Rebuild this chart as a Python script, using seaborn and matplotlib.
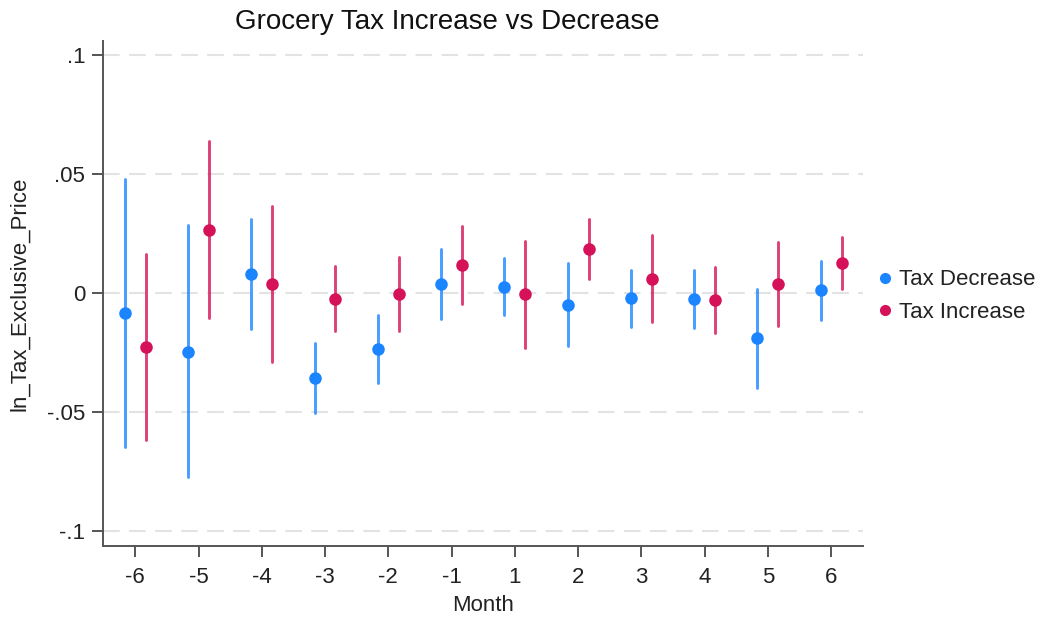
import matplotlib
matplotlib.use("Agg")
import matplotlib.pyplot as plt
from matplotlib.lines import Line2D
import numpy as np
import pandas as pd
import seaborn as sns

# Event-study coefficients with 95% confidence bounds, by month relative to the tax change
months = ["-6", "-5", "-4", "-3", "-2", "-1", "1", "2", "3", "4", "5", "6"]

dec_coef = [-0.0086, -0.0247, 0.0080, -0.0356, -0.0237, 0.0038,
            0.0027, -0.0050, -0.0022, -0.0027, -0.0189, 0.0011]
dec_lo = [-0.0646, -0.0775, -0.0151, -0.0503, -0.0380, -0.0111,
          -0.0094, -0.0223, -0.0141, -0.0148, -0.0398, -0.0115]
dec_hi = [0.0478, 0.0286, 0.0311, -0.0212, -0.0092, 0.0186,
          0.0146, 0.0125, 0.0098, 0.0095, 0.0018, 0.0134]

inc_coef = [-0.0228, 0.0265, 0.0038, -0.0024, -0.0004, 0.0116,
            -0.0006, 0.0184, 0.0060, -0.0031, 0.0038, 0.0127]
inc_lo = [-0.0618, -0.0104, -0.0289, -0.0158, -0.0158, -0.0048,
          -0.0232, 0.0059, -0.0123, -0.0169, -0.0139, 0.0017]
inc_hi = [0.0164, 0.0639, 0.0366, 0.0115, 0.0150, 0.0282,
          0.0220, 0.0310, 0.0244, 0.0108, 0.0213, 0.0235]

groups = ["Tax Decrease", "Tax Increase"]
colors = {"Tax Decrease": "#1A85FF", "Tax Increase": "#D41159"}

yticks = [-0.1, -0.05, 0.0, 0.05, 0.1]
ytick_labels = ["-.1", "-.05", "0", ".05", ".1"]

# Long table: each (month, group) cell holds its lower bound, estimate and upper bound,
# so the median is the estimate and the full range is the confidence interval.
rows = []
for g, coef, lo, hi in [("Tax Decrease", dec_coef, dec_lo, dec_hi),
                        ("Tax Increase", inc_coef, inc_lo, inc_hi)]:
    for m, c, l, h in zip(months, coef, lo, hi):
        for v in (l, c, h):
            rows.append({"Month": m, "group": g, "value": v})
df = pd.DataFrame(rows)

sns.set_theme(style="white")
plt.rcParams["font.family"] = ["Liberation Sans", "DejaVu Sans"]
text_color = "#222222"
axis_color = "#555555"
fs = 16

fig = plt.figure(figsize=(10.47, 6.21), dpi=100)
ax = fig.add_axes([0.0987, 0.1208, 0.7253, 0.8132])

sns.pointplot(
    data=df, x="Month", y="value", hue="group",
    order=months, hue_order=groups, palette=colors,
    estimator="median", errorbar=lambda v: (v.min(), v.max()),
    dodge=0.33, linestyle="none", markers="o", markersize=7,
    err_kws={"linewidth": 2.1, "alpha": 0.8},
    legend=False, ax=ax,
)

ax.set_xlim(-0.505, 11.5)
ax.set_ylim(-0.1063, 0.1059)
ax.set_yticks(yticks)
ax.set_yticklabels(ytick_labels)

ax.yaxis.grid(True, color="#e3e3e3", linestyle=(0, (8, 4.5)), linewidth=1.5)
ax.xaxis.grid(False)
ax.set_axisbelow(True)

for side in ["top", "right"]:
    ax.spines[side].set_visible(False)
for side in ["left", "bottom"]:
    ax.spines[side].set_color(axis_color)
    ax.spines[side].set_linewidth(1.4)

ax.tick_params(axis="x", pad=7)
ax.tick_params(axis="y", pad=5)
ax.tick_params(axis="both", which="major", direction="out", length=8, width=1.4,
               color=axis_color, labelsize=fs, labelcolor=text_color,
               left=True, bottom=True)

ax.set_xlabel("Month", fontsize=fs, color=text_color, labelpad=5)
ax.set_ylabel("ln_Tax_Exclusive_Price", fontsize=fs, color=text_color, labelpad=12)

fig.text(447 / 1047, 1 - 29 / 621, "Grocery Tax Increase vs Decrease",
         ha="center", va="baseline", fontsize=20, color="#111111")

handles = [Line2D([], [], linestyle="none", marker="o", markersize=7,
                  markerfacecolor=colors[g], markeredgecolor=colors[g], label=g)
           for g in groups]
ax.legend(handles=handles, loc="center left", bbox_to_anchor=(0.988, 0.495),
          frameon=False, fontsize=fs, handletextpad=0.15, labelspacing=0.5,
          handlelength=1.0, labelcolor=text_color)

fig.savefig("out.png", dpi=100, facecolor="white")
